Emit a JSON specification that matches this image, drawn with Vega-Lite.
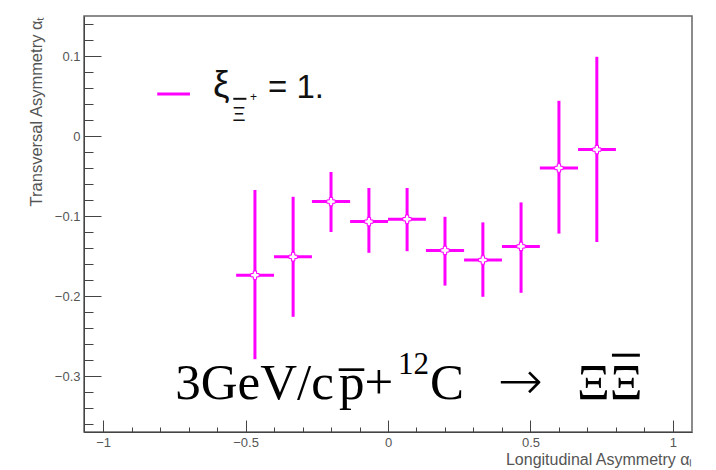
{
  "$schema": "https://vega.github.io/schema/vega-lite/v6.json",
  "autosize": "none",
  "width": 608,
  "height": 416,
  "padding": {"left": 84, "top": 16, "right": 24, "bottom": 38},
  "background": "#ffffff",
  "config": {
    "view": {"stroke": "#666666", "strokeWidth": 1.5},
    "axis": {"labelFont": "Liberation Sans", "labelFontSize": 13, "labelColor": "#555555", "titleFont": "Liberation Sans", "titleFontWeight": "normal", "titleFontSize": 16.5, "titleColor": "#555555", "domainColor": "#444444", "tickColor": "#444444", "grid": false}
  },
  "datasets": {
    "pts": [
      {"x": -0.467, "xlo": -0.533, "xhi": -0.4, "y": -0.174, "lo": -0.279, "hi": -0.0675},
      {"x": -0.333, "xlo": -0.4, "xhi": -0.267, "y": -0.151, "lo": -0.226, "hi": -0.076},
      {"x": -0.2, "xlo": -0.267, "xhi": -0.133, "y": -0.082, "lo": -0.12, "hi": -0.045},
      {"x": -0.067, "xlo": -0.133, "xhi": 0.0, "y": -0.107, "lo": -0.146, "hi": -0.065},
      {"x": 0.067, "xlo": 0.0, "xhi": 0.133, "y": -0.104, "lo": -0.144, "hi": -0.065},
      {"x": 0.2, "xlo": 0.133, "xhi": 0.267, "y": -0.143, "lo": -0.187, "hi": -0.101},
      {"x": 0.333, "xlo": 0.267, "xhi": 0.4, "y": -0.155, "lo": -0.201, "hi": -0.108},
      {"x": 0.467, "xlo": 0.4, "xhi": 0.533, "y": -0.138, "lo": -0.196, "hi": -0.083},
      {"x": 0.6, "xlo": 0.533, "xhi": 0.667, "y": -0.04, "lo": -0.122, "hi": 0.044},
      {"x": 0.733, "xlo": 0.667, "xhi": 0.8, "y": -0.017, "lo": -0.1325, "hi": 0.099}
    ],
    "big": [
      {"t": "3GeV/c", "x": -0.747, "y": -0.329},
      {"t": "p\u0305+", "x": -0.172, "y": -0.329},
      {"t": "C", "x": 0.147, "y": -0.329},
      {"t": "\u039e\u039e", "x": 0.663, "y": -0.329}
    ],
    "arrow": [{"t": "\u2192", "x": 0.385, "y": -0.329}],
    "overline": [{"x1": 0.786, "x2": 0.884, "y": -0.274}],
    "sup": [{"t": "12", "x": 0.035, "y": -0.298}],
    "xi": [{"t": "\u03be", "x": -0.614, "y": 0.049}],
    "leg": [{"t": "= 1.", "x": -0.421, "y": 0.0475}],
    "legsub": [{"t": "\u039e", "x": -0.546, "y": 0.01875}],
    "legsubbar": [{"x1": -0.543, "x2": -0.497, "y": 0.0465}],
    "legsup": [{"t": "+", "x": -0.484, "y": 0.044}],
    "legline": [{"x1": -0.81, "x2": -0.695, "y": 0.0525}]
  },
  "resolve": {"axis": {"x": "independent", "y": "independent"}},
  "layer": [
    {
      "data": {"name": "pts"},
      "mark": {"type": "rule", "color": "#ff00ff", "strokeWidth": 3},
      "encoding": {
        "x": {"field": "x", "type": "quantitative",
              "scale": {"domain": [-1.067, 1.067], "nice": false, "zero": false},
              "axis": {"orient": "bottom", "values": [-1, -0.5, 0, 0.5, 1], "format": "~g", "ticks": false, "labelPadding": 4, "title": "Longitudinal Asymmetry \u03b1\u2097", "titleFontSize": 16, "titleAnchor": "end", "titlePadding": 2, "labelFlush": false}},
        "y": {"field": "lo", "type": "quantitative",
              "scale": {"domain": [-0.37, 0.15], "nice": false, "zero": false},
              "axis": {"orient": "left", "values": [-0.3, -0.2, -0.1, 0, 0.1], "format": "~g", "ticks": false, "labelPadding": 4, "title": "Transversal Asymmetry \u03b1\u209c", "titleAnchor": "end", "titlePadding": 10, "labelFlush": false}},
        "y2": {"field": "hi"}
      }
    },
    {
      "data": {"name": "pts"},
      "mark": {"type": "rule", "color": "#ff00ff", "strokeWidth": 3},
      "encoding": {
        "x": {"field": "xlo", "type": "quantitative",
              "scale": {"domain": [-1.067, 1.067], "nice": false, "zero": false},
              "axis": {"orient": "top", "offset": -416, "values": [-1, -0.5, 0, 0.5, 1], "tickSize": 12, "labels": false, "domain": false, "title": null}},
        "x2": {"field": "xhi"},
        "y": {"field": "y", "type": "quantitative",
              "scale": {"domain": [-0.37, 0.15], "nice": false, "zero": false},
              "axis": {"orient": "right", "offset": -608, "values": [-0.3, -0.2, -0.1, 0, 0.1], "tickSize": 17, "labels": false, "domain": false, "title": null}}
      }
    },
    {
      "data": {"name": "pts"},
      "mark": {"type": "point", "shape": "cross", "filled": true, "fill": "#ffffff", "stroke": "#ff00ff", "strokeWidth": 1, "size": 70, "opacity": 1},
      "encoding": {
        "x": {"field": "x", "type": "quantitative",
              "scale": {"domain": [-1.067, 1.067], "nice": false, "zero": false},
              "axis": {"orient": "top", "offset": -416, "values": [-1, -0.9, -0.8, -0.7, -0.6, -0.5, -0.4, -0.3, -0.2, -0.1, 0, 0.1, 0.2, 0.3, 0.4, 0.5, 0.6, 0.7, 0.8, 0.9, 1], "tickSize": 5, "labels": false, "domain": false, "title": null}},
        "y": {"field": "y", "type": "quantitative",
              "scale": {"domain": [-0.37, 0.15], "nice": false, "zero": false},
              "axis": {"orient": "right", "offset": -608, "values": [-0.36, -0.34, -0.32, -0.3, -0.28, -0.26, -0.24, -0.22, -0.2, -0.18, -0.16, -0.14, -0.12, -0.1, -0.08, -0.06, -0.04, -0.02, 0, 0.02, 0.04, 0.06, 0.08, 0.1, 0.12, 0.14], "tickSize": 9, "labels": false, "domain": false, "title": null}}
      }
    },
    {
      "data": {"name": "legline"},
      "mark": {"type": "rule", "color": "#ff00ff", "strokeWidth": 3},
      "encoding": {
        "x": {"field": "x1", "type": "quantitative", "axis": null},
        "x2": {"field": "x2"},
        "y": {"field": "y", "type": "quantitative", "axis": null}
      }
    },
    {
      "data": {"name": "xi"},
      "mark": {"type": "text", "font": "Liberation Sans", "fontSize": 37, "align": "left", "baseline": "alphabetic", "color": "#111111"},
      "encoding": {
        "x": {"field": "x", "type": "quantitative", "axis": null},
        "y": {"field": "y", "type": "quantitative", "axis": null},
        "text": {"field": "t"}
      }
    },
    {
      "data": {"name": "leg"},
      "mark": {"type": "text", "font": "Liberation Sans", "fontSize": 33, "align": "left", "baseline": "alphabetic", "color": "#111111"},
      "encoding": {
        "x": {"field": "x", "type": "quantitative", "axis": null},
        "y": {"field": "y", "type": "quantitative", "axis": null},
        "text": {"field": "t"}
      }
    },
    {
      "data": {"name": "legsub"},
      "mark": {"type": "text", "font": "Liberation Sans", "fontSize": 20, "align": "left", "baseline": "alphabetic", "color": "#111111"},
      "encoding": {
        "x": {"field": "x", "type": "quantitative", "axis": null},
        "y": {"field": "y", "type": "quantitative", "axis": null},
        "text": {"field": "t"}
      }
    },
    {
      "data": {"name": "legsubbar"},
      "mark": {"type": "rule", "color": "#111111", "strokeWidth": 2},
      "encoding": {
        "x": {"field": "x1", "type": "quantitative", "axis": null},
        "x2": {"field": "x2"},
        "y": {"field": "y", "type": "quantitative", "axis": null}
      }
    },
    {
      "data": {"name": "legsup"},
      "mark": {"type": "text", "font": "Liberation Sans", "fontSize": 12, "align": "left", "baseline": "alphabetic", "color": "#111111"},
      "encoding": {
        "x": {"field": "x", "type": "quantitative", "axis": null},
        "y": {"field": "y", "type": "quantitative", "axis": null},
        "text": {"field": "t"}
      }
    },
    {
      "data": {"name": "big"},
      "mark": {"type": "text", "font": "Liberation Serif", "fontSize": 51, "align": "left", "baseline": "alphabetic", "color": "#000000"},
      "encoding": {
        "x": {"field": "x", "type": "quantitative", "axis": null},
        "y": {"field": "y", "type": "quantitative", "axis": null},
        "text": {"field": "t"}
      }
    },
    {
      "data": {"name": "arrow"},
      "mark": {"type": "text", "font": "DejaVu Sans", "fontSize": 54, "fontWeight": 300, "align": "left", "baseline": "alphabetic", "color": "#000000"},
      "encoding": {
        "x": {"field": "x", "type": "quantitative", "axis": null},
        "y": {"field": "y", "type": "quantitative", "axis": null},
        "text": {"field": "t"}
      }
    },
    {
      "data": {"name": "overline"},
      "mark": {"type": "rule", "color": "#000000", "strokeWidth": 3},
      "encoding": {
        "x": {"field": "x1", "type": "quantitative", "axis": null},
        "x2": {"field": "x2"},
        "y": {"field": "y", "type": "quantitative", "axis": null}
      }
    },
    {
      "data": {"name": "sup"},
      "mark": {"type": "text", "font": "Liberation Serif", "fontSize": 31, "align": "left", "baseline": "alphabetic", "color": "#000000"},
      "encoding": {
        "x": {"field": "x", "type": "quantitative", "axis": null},
        "y": {"field": "y", "type": "quantitative", "axis": null},
        "text": {"field": "t"}
      }
    }
  ]
}
